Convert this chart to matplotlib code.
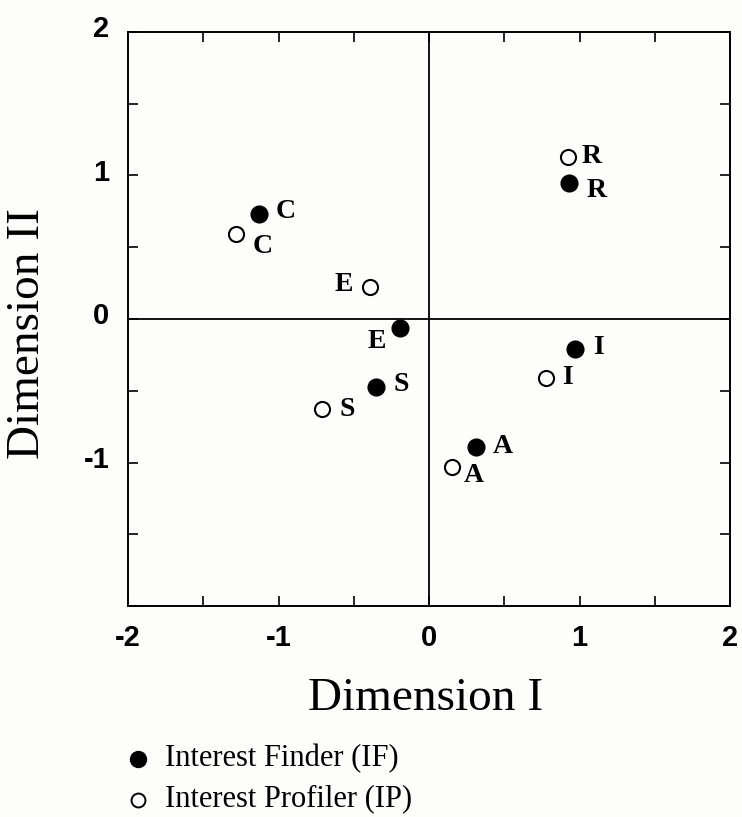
import matplotlib
matplotlib.use("Agg")
import matplotlib.pyplot as plt
from matplotlib.lines import Line2D
from matplotlib.ticker import MultipleLocator

# RIASEC codes, two instruments
codes = ["R", "I", "A", "S", "E", "C"]

if_x = [0.93, 0.97, 0.31, -0.35, -0.19, -1.13]
if_y = [0.95, -0.21, -0.89, -0.47, -0.06, 0.73]

ip_x = [0.92, 0.78, 0.15, -0.71, -0.39, -1.28]
ip_y = [1.13, -0.41, -1.03, -0.63, 0.22, 0.59]

# label offsets in points (dx, dy) per code
if_off = {"R": (19.5, -6), "I": (17, 1.5), "A": (19.5, 0), "S": (18, 1.5), "E": (-17, -10), "C": (19.5, 2)}
ip_off = {"R": (17, 0), "I": (15, 0), "A": (16, -6), "S": (18, 0), "E": (-19, 2), "C": (19, -9)}

serif = ["Liberation Serif", "DejaVu Serif"]
sans = ["Liberation Sans", "DejaVu Sans"]
bg = "#fdfdfb"

fig = plt.figure(figsize=(7.42, 8.17), dpi=100)
fig.patch.set_facecolor(bg)
ax = fig.add_axes([0.1725, 0.258, 0.8115, 0.703])
ax.set_facecolor(bg)

ax.axhline(0, color="black", lw=1.3, zorder=1)
ax.axvline(0, color="black", lw=1.3, zorder=1)

ax.scatter(if_x, if_y, s=145, c="black", edgecolors="black", zorder=3)
ax.scatter(ip_x, ip_y, s=118, facecolors=bg, edgecolors="black", linewidths=1.5, zorder=3)

for c, x, y in zip(codes, if_x, if_y):
    dx, dy = if_off[c]
    ax.annotate(c, (x, y), xytext=(dx, dy), textcoords="offset points",
                ha="center", va="center", fontsize=20, fontweight="bold", family=serif)
for c, x, y in zip(codes, ip_x, ip_y):
    dx, dy = ip_off[c]
    ax.annotate(c, (x, y), xytext=(dx, dy), textcoords="offset points",
                ha="center", va="center", fontsize=20, fontweight="bold", family=serif)

ax.set_xlim(-2, 2)
ax.set_ylim(-2, 2)
ax.xaxis.set_major_locator(MultipleLocator(1))
ax.yaxis.set_major_locator(MultipleLocator(1))
ax.xaxis.set_minor_locator(MultipleLocator(0.5))
ax.yaxis.set_minor_locator(MultipleLocator(0.5))
ax.tick_params(which="both", direction="in", top=True, right=True, length=7, width=1.2)
ax.set_xticklabels([])
ax.set_yticklabels([])

for v in [-2, -1, 0, 1, 2]:
    ax.text(v, -2.22, str(v), ha="center", va="center",
            fontsize=21, fontweight="bold", family=sans, clip_on=False)
for v in [-1, 0, 1, 2]:
    ax.text(-2.125, v + 0.02, str(v), ha="right", va="center",
            fontsize=21, fontweight="bold", family=sans, clip_on=False)

for sp in ax.spines.values():
    sp.set_linewidth(1.4)

fig.text(0.573, 0.145, "Dimension I", ha="center", va="center", fontsize=34, family=serif)
fig.text(0.038, 0.592, "Dimension II", ha="center", va="center", rotation=90,
         fontsize=34, family=serif)

# legend drawn by hand under the axes
fig.add_artist(Line2D([0.186], [0.071], transform=fig.transFigure, marker="o", ms=11.5,
                      color="black", ls="none"))
fig.add_artist(Line2D([0.186], [0.021], transform=fig.transFigure, marker="o", ms=10,
                      mfc=bg, mec="black", mew=1.4, ls="none"))
fig.text(0.222, 0.072, "Interest Finder (IF)", ha="left", va="center", fontsize=22, family=serif)
fig.text(0.222, 0.022, "Interest Profiler (IP)", ha="left", va="center", fontsize=22, family=serif)

fig.savefig("out.png", dpi=100, facecolor=fig.get_facecolor())
